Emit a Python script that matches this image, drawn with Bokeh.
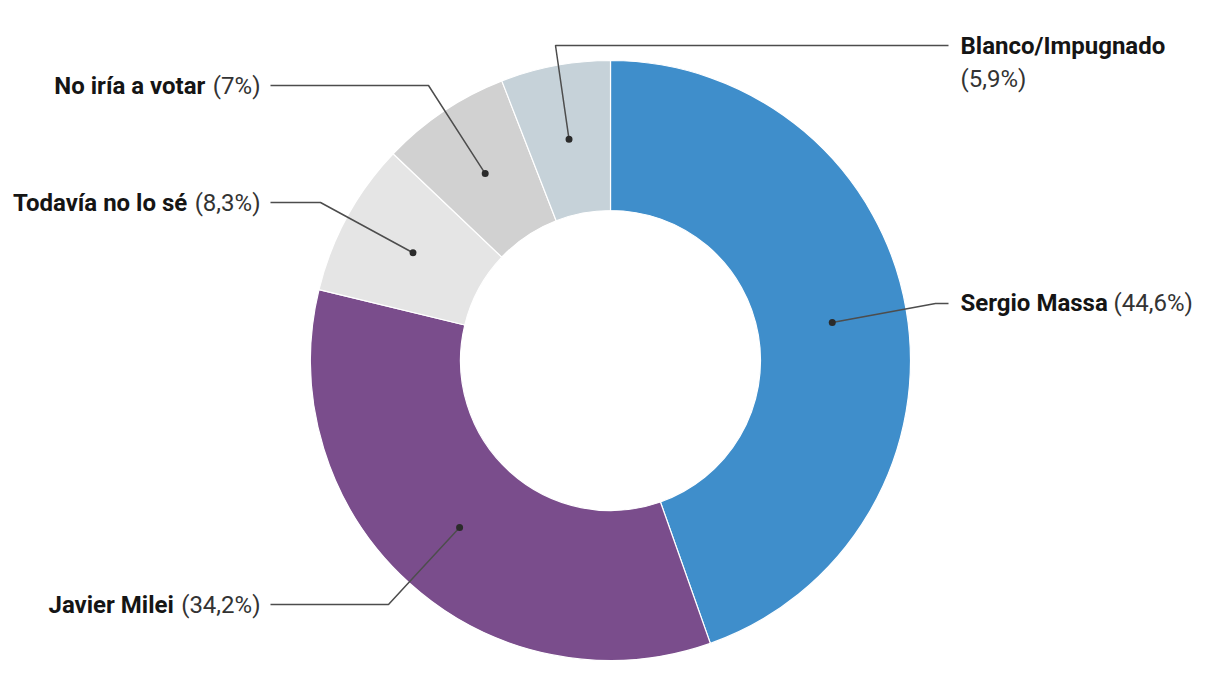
import math
from bokeh.plotting import figure
from bokeh.models import Range1d, ColumnDataSource
from bokeh.core.properties import value
from bokeh.embed import file_html
from bokeh.resources import INLINE

# ---- data ----
categories = ["Sergio Massa", "Javier Milei", "Todavía no lo sé", "No iría a votar", "Blanco/Impugnado"]
shares = [44.6, 34.2, 8.3, 7.0, 5.9]
share_labels = ["(44,6%)", "(34,2%)", "(8,3%)", "(7%)", "(5,9%)"]
colors = ["#3f8ecb", "#7a4d8c", "#e5e5e5", "#d1d1d1", "#c6d2d9"]

# ---- layout (pixel space, y measured from top) ----
W, H = 1220, 700
CX, CY = 610, 360
R_OUT, R_IN = 300, 150
R_DOT = (R_OUT + R_IN) / 2
FS = 24
elbows = [(935, 303), (388, 604), (320, 202), (428, 85), (555, 45)]
line_ends = [948, 270, 270, 270, 948]
label_y = [302, 604, 202, 85, 45]
sides = ["right", "left", "left", "left", "right_two"]

def fy(y):
    return H - y

total = sum(shares)
starts, ends, mids = [], [], []
cum = 0.0
for s in shares:
    a0 = math.pi / 2 - 2 * math.pi * cum / total
    cum += s
    a1 = math.pi / 2 - 2 * math.pi * cum / total
    starts.append(a1)
    ends.append(a0)
    mids.append((a0 + a1) / 2)

p = figure(width=W, height=H, x_range=Range1d(0, W), y_range=Range1d(0, H),
           output_backend="svg", toolbar_location=None, min_border=0,
           background_fill_color="white", border_fill_color="white")
p.axis.visible = False
p.grid.visible = False
p.outline_line_color = None

src = ColumnDataSource(dict(start=starts, end=ends, color=colors, cat=categories))
p.annular_wedge(x=CX, y=fy(CY), inner_radius=R_IN, outer_radius=R_OUT,
                start_angle="start", end_angle="end", direction="anticlock",
                fill_color="color", line_color="white", line_width=1.2, source=src)

# leader lines and dots
dot_x = [CX + R_DOT * math.cos(m) for m in mids]
dot_y = [fy(CY) + R_DOT * math.sin(m) for m in mids]
xs, ys = [], []
for i in range(len(categories)):
    ex, ey = elbows[i]
    xs.append([dot_x[i], ex, line_ends[i]])
    ys.append([dot_y[i], fy(ey), fy(ey)])
p.multi_line(xs=xs, ys=ys, line_color="#4d4d4d", line_width=1.5)
p.scatter(x=dot_x, y=dot_y, size=7, fill_color="#2b2b2b", line_color=None)

# rough Roboto regular advance widths (em)
cw = {"(": 0.341, ")": 0.347, ",": 0.192, "%": 0.715}
def est_w(s):
    return sum(cw.get(c, 0.5615) for c in s) * FS

GAP = 8
name_x, name_y, name_align = [], [], []
pct_x, pct_y, pct_align = [], [], []
for i, cat in enumerate(categories):
    y = fy(label_y[i])
    if sides[i] == "right":
        name_x.append(960); name_y.append(y); name_align.append("left")
        pct_x.append(1113); pct_y.append(y); pct_align.append("left")
    elif sides[i] == "right_two":
        name_x.append(960); name_y.append(y); name_align.append("left")
        pct_x.append(960); pct_y.append(fy(78)); pct_align.append("left")
    else:
        pct_x.append(260); pct_y.append(y); pct_align.append("right")
        name_x.append(260 - est_w(share_labels[i]) - GAP); name_y.append(y); name_align.append("right")

nsrc = ColumnDataSource(dict(x=name_x, y=name_y, t=categories, a=name_align))
psrc = ColumnDataSource(dict(x=pct_x, y=pct_y, t=share_labels, a=pct_align))
p.text(x="x", y="y", text="t", text_align="a", text_baseline="middle", source=nsrc,
       text_font=value("Roboto"), text_font_style="bold", text_font_size=f"{FS}px",
       text_color="#151515")
p.text(x="x", y="y", text="t", text_align="a", text_baseline="middle", source=psrc,
       text_font=value("Roboto"), text_font_style="normal", text_font_size=f"{FS}px",
       text_color="#333333")

open("out.html", "w").write(file_html(p, INLINE))
